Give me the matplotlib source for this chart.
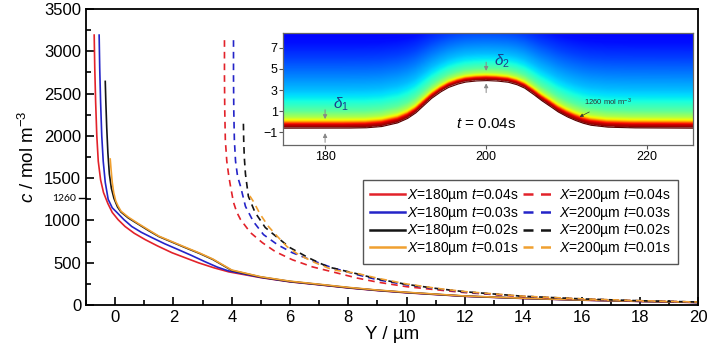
import numpy as np
import matplotlib
matplotlib.use('Agg')
import matplotlib.pyplot as plt
from matplotlib.ticker import MultipleLocator

plt.rcParams['font.family'] = ['Liberation Sans', 'DejaVu Sans']
plt.rcParams['mathtext.fontset'] = 'custom'
plt.rcParams['mathtext.rm'] = 'Liberation Sans'
plt.rcParams['mathtext.it'] = 'Liberation Sans:italic'

# X = 180 um (solid)
y_r180 = [-0.72, -0.7, -0.67, -0.63, -0.58, -0.5, -0.4, -0.25, -0.1, 0.1, 0.34, 0.65, 1.03, 1.45, 1.95, 2.4, 2.86, 3.4, 3.9,
          5, 6, 7, 8, 9, 10, 12, 14, 16, 18, 20]
c_r180 = [3190, 2800, 2400, 2000, 1700, 1480, 1330, 1200, 1095, 1010, 929, 850, 774, 700, 619, 560, 500, 440, 393,
          325, 275, 240, 203, 172, 146, 104, 79, 59, 44, 31]
y_b180 = [-0.55, -0.53, -0.5, -0.46, -0.41, -0.34, -0.24, -0.1, 0.06, 0.3, 0.57, 0.9, 1.26, 1.7, 2.17, 2.6, 3.09, 3.5, 3.88,
          5, 6, 7, 8, 9, 10, 12, 14, 16, 18, 20]
c_b180 = [3190, 2800, 2400, 2000, 1700, 1450, 1250, 1150, 1095, 1010, 929, 860, 798, 725, 655, 590, 512, 450, 405,
          328, 277, 242, 205, 174, 148, 105, 80, 60, 45, 32]
y_k180 = [-0.34, -0.32, -0.29, -0.25, -0.2, -0.13, -0.04, 0.08, 0.2, 0.45, 0.8, 1.15, 1.5, 1.95, 2.4, 2.9, 3.35, 3.7, 4.0,
          5, 6, 7, 8, 9, 10, 12, 14, 16, 18, 20]
c_k180 = [2643, 2400, 2100, 1800, 1550, 1380, 1260, 1160, 1100, 1030, 955, 880, 810, 745, 680, 610, 540, 470, 410,
          332, 280, 244, 207, 176, 150, 107, 81, 61, 46, 33]
y_o180 = [-0.17, -0.14, -0.1, -0.05, 0.02, 0.1, 0.2, 0.45, 0.8, 1.15, 1.5, 1.95, 2.4, 2.9, 3.35, 3.7, 4.0,
          5, 6, 7, 8, 9, 10, 12, 14, 16, 18, 20]
c_o180 = [1726, 1600, 1450, 1330, 1230, 1170, 1110, 1040, 962, 888, 815, 750, 685, 615, 545, 475, 415,
          335, 283, 247, 210, 178, 152, 108, 82, 62, 47, 34]

# X = 200 um (dashed)
y_r200 = [3.75, 3.75, 3.76, 3.78, 3.83, 3.9, 3.97, 4.06, 4.17, 4.3, 4.64, 5.05, 5.5, 6.08, 6.77, 7.46, 8.3, 9, 10, 11, 12,
          14, 16, 18, 20]
c_r200 = [3130, 2700, 2300, 1950, 1700, 1520, 1380, 1214, 1100, 1012, 857, 738, 631, 536, 452, 393, 320, 272, 218, 182, 148,
          101, 71, 50, 36]
y_b200 = [4.06, 4.06, 4.07, 4.09, 4.13, 4.2, 4.3, 4.47, 4.74, 5.09, 5.57, 6.08, 6.7, 7.46, 8.3, 9, 10, 11, 12, 14, 16, 18, 20]
c_b200 = [3130, 2700, 2300, 1950, 1700, 1520, 1405, 1167, 988, 833, 714, 619, 536, 440, 360, 300, 240, 195, 155, 104, 73, 51, 36]
y_k200 = [4.4, 4.41, 4.43, 4.47, 4.57, 4.8, 5.15, 5.57, 6.0, 6.63, 7.3, 8.3, 9, 10, 11, 12, 14, 16, 18, 20]
c_k200 = [2143, 1950, 1750, 1550, 1286, 1095, 917, 798, 679, 560, 452, 370, 310, 245, 198, 158, 105, 74, 52, 37]
y_o200 = [4.62, 4.74, 4.98, 5.26, 5.57, 5.9, 6.3, 6.87, 7.46, 8.3, 9, 10, 11, 12, 14, 16, 18, 20]
c_o200 = [1290, 1226, 1071, 929, 810, 690, 595, 500, 417, 375, 318, 250, 200, 160, 106, 75, 53, 37]

times = ['0.04', '0.03', '0.02', '0.01']
colors = ['#e2222a', '#2424c8', '#141414', '#f0a030']

# inset: interface top (um) and concentration decay above it (normalised)
if_x = [175, 182, 185, 187, 189, 190.2, 191.2, 192.2, 193.2, 194.3, 195.3, 196.4, 197.4, 198.7, 200,
        201.3, 202.7, 203.8, 204.8, 205.8, 206.8, 207.9, 208.9, 210, 211, 212, 213, 215, 218, 226]
if_y = [-0.3, -0.3, -0.27, -0.15, 0.2, 0.6, 1.1, 1.8, 2.5, 3.1, 3.54, 3.85, 4.05, 4.16, 4.2,
        4.16, 4.05, 3.82, 3.48, 2.95, 2.36, 1.8, 1.26, 0.8, 0.46, 0.18, -0.02, -0.2, -0.27, -0.3]
dist = [0, 0.3, 0.45, 0.55, 0.7, 1.0, 1.6, 2.6, 3.6, 5.0, 6.5, 8.0, 11]
cnorm = [1.0, 0.93, 0.86, 0.76, 0.66, 0.56, 0.46, 0.37, 0.31, 0.25, 0.19, 0.14, 0.10]

fig = plt.figure(figsize=(7.08, 3.54), dpi=100)
ax = fig.add_axes([0.1215, 0.138, 0.8645, 0.837])

solid = [(y_r180, c_r180), (y_b180, c_b180), (y_k180, c_k180), (y_o180, c_o180)]
dashed = [(y_r200, c_r200), (y_b200, c_b200), (y_k200, c_k200), (y_o200, c_o200)]
for (yy, cc), t, col in zip(solid, times, colors):
    ax.plot(yy, cc, color=col, lw=1.2, label=r'$X$=180µm $t$=' + t + 's')
for (yy, cc), t, col in zip(dashed, times, colors):
    ax.plot(yy, cc, color=col, lw=1.2, dashes=(4, 3), label=r'$X$=200µm $t$=' + t + 's')

ax.set_xlim(-1, 20)
ax.set_ylim(0, 3500)
ax.xaxis.set_major_locator(MultipleLocator(2))
ax.xaxis.set_minor_locator(MultipleLocator(1))
ax.yaxis.set_major_locator(MultipleLocator(500))
ax.yaxis.set_minor_locator(MultipleLocator(250))
ax.tick_params(which='both', direction='in', width=1.2, labelsize=12)
ax.tick_params(which='major', length=6)
ax.tick_params(which='minor', length=3.5)
for s in ax.spines.values():
    s.set_linewidth(1.3)
ax.set_xlabel('Y / µm', fontsize=13.5, labelpad=1)
ax.set_ylabel(r'$c$ / mol m$^{-3}$', fontsize=13.5, labelpad=4)

# 1260 marker on the c axis
tr = ax.get_yaxis_transform()
ax.plot([-0.012, 0], [1260, 1260], transform=tr, color='k', lw=1, clip_on=False)
ax.text(-0.016, 1260, '1260', transform=tr, ha='right', va='center', fontsize=7.5, family='Lato')

leg = ax.legend(ncol=2, loc='upper right', bbox_to_anchor=(0.967, 0.422), borderaxespad=0,
                fontsize=10, handlelength=2.5, handletextpad=0.15, columnspacing=0.3,
                labelspacing=0.05, fancybox=False, edgecolor='#555555', framealpha=1,
                borderpad=0.5)
leg.get_frame().set_linewidth(1.0)
for h in leg.get_lines():
    h.set_linewidth(1.8)

# inset concentration field
ins = fig.add_axes([0.40, 0.590, 0.579, 0.317])
xmin, xmax, ymin, ymax = 174.8, 225.7, -2.2, 8.4
gx = np.linspace(xmin, xmax, 700)
gy = np.linspace(ymin, ymax, 260)
top = np.interp(gx, if_x, if_y)
base = top - 0.3
scale = 1 - 0.3 * (top - if_y[0]) / (max(if_y) - if_y[0])
d = (gy[:, None] - base[None, :]) / scale[None, :]
field = np.interp(d, dist, cnorm)
field = np.ma.masked_where(d < 0, field)
cmap = plt.get_cmap('jet').copy()
cmap.set_bad('white')
ins.imshow(field, extent=[xmin, xmax, ymin, ymax], origin='lower', aspect='auto',
           cmap=cmap, vmin=0, vmax=1, interpolation='bilinear')
ins.plot(gx, base, color='#5a0000', lw=0.8)
ins.set_xlim(xmin, xmax)
ins.set_ylim(ymin, ymax)
ins.set_xticks([180, 200, 220])
ins.set_yticks([7, 5, 3, 1, -1])
ins.tick_params(labelsize=9, length=3, width=0.8, pad=1, color='#555555')
for s in ins.spines.values():
    s.set_color('#666666')
    s.set_linewidth(0.9)

arr = dict(arrowstyle='-|>', color='#888888', lw=0.7, mutation_scale=6)
ins.annotate('', xy=(180, 0.0), xytext=(180, 1.4), arrowprops=arr)
ins.annotate('', xy=(180, -0.8), xytext=(180, -2.2), arrowprops=arr)
ins.text(181.0, 1.7, r'$\delta_1$', color='#1e3c8c', fontsize=11, ha='left', va='center')
ins.annotate('', xy=(200, 4.55), xytext=(200, 5.9), arrowprops=arr)
ins.annotate('', xy=(200, 3.9), xytext=(200, 2.5), arrowprops=arr)
ins.text(201.0, 5.75, r'$\delta_2$', color='#1e3c8c', fontsize=11, ha='left', va='center')
ins.annotate('1260 mol m$^{-3}$', xy=(211.3, 0.35), xytext=(212.2, 1.85), fontsize=5.5,
             color='#333333', va='center', ha='left',
             arrowprops=dict(arrowstyle='-|>', color='#333333', lw=0.5, mutation_scale=5))
ins.text(200, -0.2, r'$t$ = 0.04s', fontsize=11, ha='center', va='center')

fig.savefig('out.png', dpi=100)
